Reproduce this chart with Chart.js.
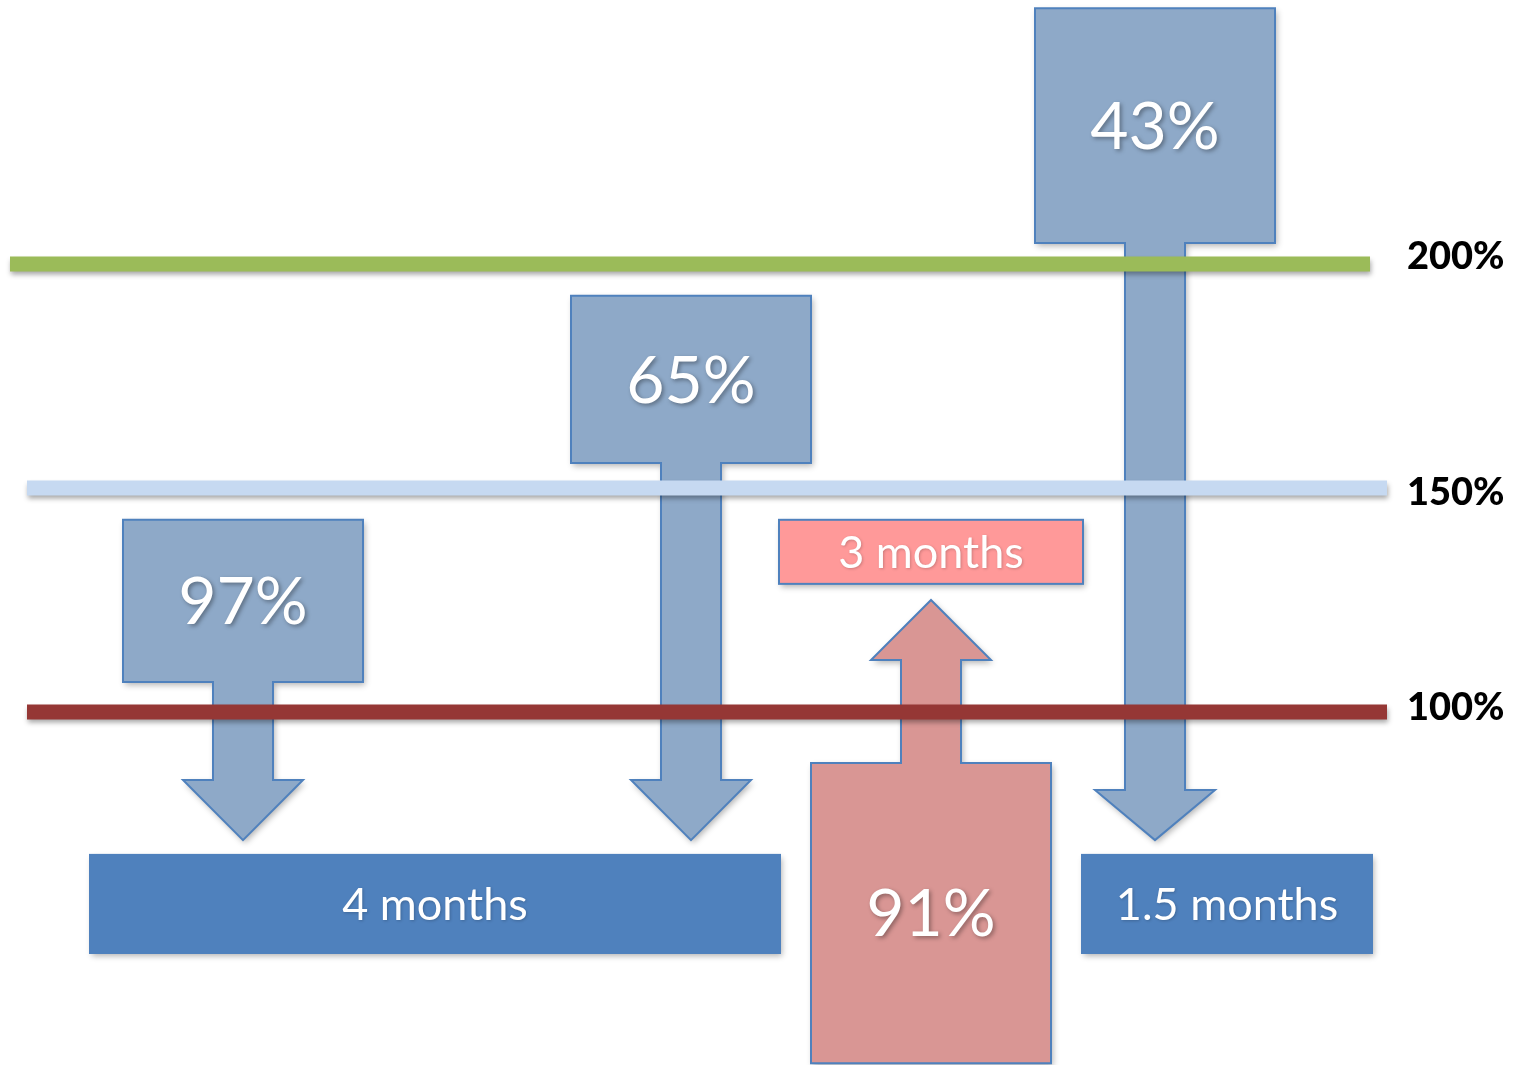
<!DOCTYPE html>
<html>
<head>
<meta charset="utf-8">
<script src="https://cdn.jsdelivr.net/npm/chart.js@4.4.1/dist/chart.umd.min.js"></script>
<style>
  html, body { margin: 0; padding: 0; background: #fff; }
  #wrap { width: 1516px; height: 1065px; position: relative; }
</style>
</head>
<body>
<div id="wrap"><canvas id="myChart"></canvas></div>
<script>
// threshold levels
var levels = [200, 150, 100];
var levelLabels = ['200%', '150%', '100%'];

// shares moving down past the thresholds, and the one moving up
var downValues = [97, 65, 43];
var upValues = [91];
var periods = ['4 months', '3 months', '1.5 months'];

// layout in axis units (x: 0-1516, y: percent)
var levelSpans = [[10, 1370], [27, 1387], [27, 1387]];
var levelColors = ['#9BBB59', '#C6D9F1', '#953735'];
var labelShift = [-7, 5, -4]; // px, label baseline nudges

var downArrows = [
    { x: 243, box: 142.9, neck: 106.7, head: 84.8, tip: 71.4 },
    { x: 691, box: 192.9, neck: 155.6, head: 84.8, tip: 71.4 },
    { x: 1155, box: 257.1, neck: 204.7, head: 82.6, tip: 71.4 }
];
var upArrows = [
    { x: 931, box: 21.6, neck: 88.6, head: 111.6, tip: 125.0 }
];
var periodBoxes = [
    { x0: 90, x1: 780, top: 68.1, bottom: 46.2, fill: '#4F81BD', stroke: '#4F81BD' },
    { x0: 779, x1: 1083, top: 142.9, bottom: 128.6, fill: '#FF9999', stroke: '#4F81BD' },
    { x0: 1082, x1: 1372, top: 68.1, bottom: 46.2, fill: '#4F81BD', stroke: '#4F81BD' }
];

var BOX_HALF = 120, SHAFT_HALF = 30, HEAD_HALF = 60;
var FONT = "Lato, 'Open Sans', 'Liberation Sans', sans-serif";

function setShadow(ctx, blur, dx, dy, color) {
    ctx.shadowColor = color;
    ctx.shadowBlur = blur;
    ctx.shadowOffsetX = dx;
    ctx.shadowOffsetY = dy;
}

// block arrow: wide box, narrow shaft, triangular head
function drawArrow(ctx, xs, ys, a, fill, label) {
    var px = function (v) { return xs.getPixelForValue(v); };
    var box = ys.getPixelForValue(a.box);
    var neck = ys.getPixelForValue(a.neck);
    var head = ys.getPixelForValue(a.head);
    var tip = ys.getPixelForValue(a.tip);

    ctx.save();
    ctx.beginPath();
    ctx.moveTo(px(a.x - BOX_HALF), box);
    ctx.lineTo(px(a.x + BOX_HALF), box);
    ctx.lineTo(px(a.x + BOX_HALF), neck);
    ctx.lineTo(px(a.x + SHAFT_HALF), neck);
    ctx.lineTo(px(a.x + SHAFT_HALF), head);
    ctx.lineTo(px(a.x + HEAD_HALF), head);
    ctx.lineTo(px(a.x), tip);
    ctx.lineTo(px(a.x - HEAD_HALF), head);
    ctx.lineTo(px(a.x - SHAFT_HALF), head);
    ctx.lineTo(px(a.x - SHAFT_HALF), neck);
    ctx.lineTo(px(a.x - BOX_HALF), neck);
    ctx.closePath();
    setShadow(ctx, 6, 2, 3, 'rgba(0,0,0,0.3)');
    ctx.fillStyle = fill;
    ctx.fill();
    setShadow(ctx, 0, 0, 0, 'transparent');
    ctx.strokeStyle = '#4F81BD';
    ctx.lineWidth = 2;
    ctx.lineJoin = 'miter';
    ctx.stroke();

    setShadow(ctx, 4, 2, 2, 'rgba(0,0,0,0.35)');
    ctx.fillStyle = '#fff';
    ctx.font = '66px ' + FONT;
    ctx.textAlign = 'center';
    ctx.textBaseline = 'middle';
    ctx.fillText(label, px(a.x), (box + neck) / 2 + 2);
    ctx.restore();
}

var arrowsPlugin = {
    id: 'arrows',
    beforeDatasetsDraw: function (chart) {
        var ctx = chart.ctx, xs = chart.scales.x, ys = chart.scales.y;
        downArrows.forEach(function (a, i) {
            drawArrow(ctx, xs, ys, a, '#8EA9C8', downValues[i] + '%');
        });
        upArrows.forEach(function (a, i) {
            drawArrow(ctx, xs, ys, a, '#D99694', upValues[i] + '%');
        });
    },
    beforeDatasetDraw: function (chart) {
        chart.ctx.save();
        setShadow(chart.ctx, 5, 1, 4, 'rgba(0,0,0,0.35)');
    },
    afterDatasetDraw: function (chart) {
        chart.ctx.restore();
    },
    afterDatasetsDraw: function (chart) {
        var ctx = chart.ctx, xs = chart.scales.x, ys = chart.scales.y;
        periodBoxes.forEach(function (b, i) {
            var x0 = xs.getPixelForValue(b.x0), x1 = xs.getPixelForValue(b.x1);
            var y0 = ys.getPixelForValue(b.top), y1 = ys.getPixelForValue(b.bottom);
            ctx.save();
            setShadow(ctx, 6, 2, 3, 'rgba(0,0,0,0.3)');
            ctx.fillStyle = b.fill;
            ctx.fillRect(x0, y0, x1 - x0, y1 - y0);
            setShadow(ctx, 0, 0, 0, 'transparent');
            ctx.strokeStyle = b.stroke;
            ctx.lineWidth = 2;
            ctx.strokeRect(x0, y0, x1 - x0, y1 - y0);
            setShadow(ctx, 3, 1, 1, 'rgba(0,0,0,0.2)');
            ctx.fillStyle = '#fff';
            ctx.font = '45px ' + FONT;
            ctx.textAlign = 'center';
            ctx.textBaseline = 'middle';
            ctx.fillText(periods[i], (x0 + x1) / 2, (y0 + y1) / 2 + 2);
            ctx.restore();
        });

        // level labels to the right of the lines
        ctx.save();
        ctx.fillStyle = '#000';
        ctx.font = '900 38px ' + FONT;
        ctx.textAlign = 'left';
        ctx.textBaseline = 'middle';
        levels.forEach(function (v, i) {
            ctx.fillText(levelLabels[i], 1407, ys.getPixelForValue(v) + labelShift[i]);
        });
        ctx.restore();
    }
};

var datasets = levels.map(function (v, i) {
    return {
        label: levelLabels[i],
        data: [{ x: levelSpans[i][0], y: v }, { x: levelSpans[i][1], y: v }],
        borderColor: levelColors[i],
        borderWidth: 15,
        borderCapStyle: 'butt',
        pointRadius: 0,
        fill: false
    };
});

var ctx = document.getElementById('myChart').getContext('2d');
var myChart = new Chart(ctx, {
    type: 'line',
    data: { datasets: datasets },
    options: {
        responsive: true,
        maintainAspectRatio: false,
        animation: false,
        events: [],
        layout: { padding: 0 },
        plugins: {
            legend: { display: false },
            tooltip: { enabled: false },
            title: { display: false }
        },
        scales: {
            x: { type: 'linear', min: 0, max: 1516, display: false },
            y: { type: 'linear', min: 21.2, max: 258.93, display: false }
        }
    },
    plugins: [arrowsPlugin]
});
</script>
</body>
</html>
